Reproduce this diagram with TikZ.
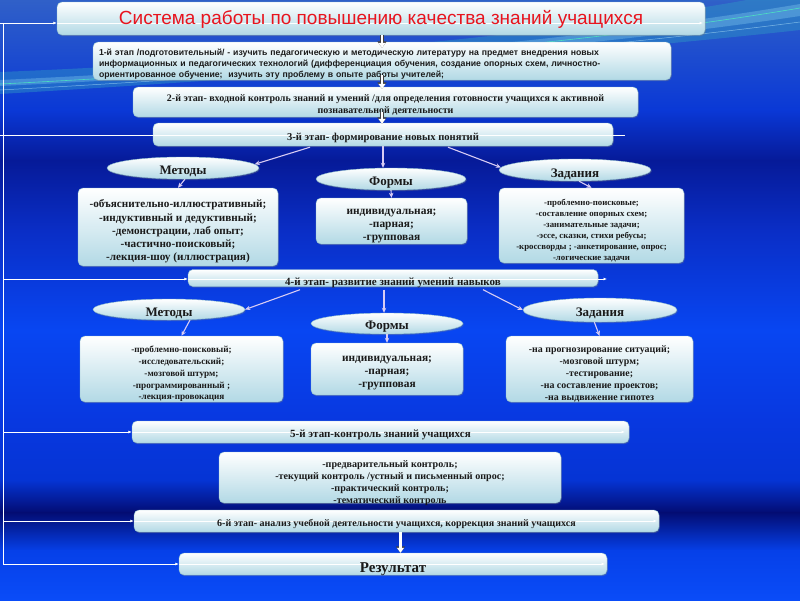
\documentclass[tikz,border=0pt]{standalone}
\usepackage{fontspec}
\setmainfont{Liberation Serif}
\newfontfamily\sansf{Liberation Sans}
\usetikzlibrary{shapes.geometric,arrows.meta,shadows,calc}
\definecolor{bgA}{HTML}{3060C8}
\definecolor{bgB}{HTML}{0A38D6}
\definecolor{bgC}{HTML}{061A98}
\definecolor{bgD}{HTML}{0A2EC6}
\definecolor{bgE}{HTML}{0846F2}
\definecolor{bgF}{HTML}{0838E0}
\definecolor{bgG}{HTML}{0534D4}
\definecolor{bgH}{HTML}{030C72}
\definecolor{bgI}{HTML}{0640E8}
\definecolor{bgJ}{HTML}{0A4CF8}
\definecolor{boxbot}{HTML}{B2D9E5}
\definecolor{boxedge}{HTML}{8CBCCC}
\definecolor{lav}{HTML}{D8CCF4}
\definecolor{titlered}{HTML}{E8141E}
\definecolor{txt}{HTML}{1A1A1A}
\begin{document}
\begin{tikzpicture}[x=1pt,y=-1pt,
  box/.style={rounded corners=5pt, top color=white, bottom color=boxbot, draw=boxedge, line width=0.4pt,
    inner sep=0pt, align=center, text=txt,
    drop shadow={opacity=0.35, shadow xshift=0.8pt, shadow yshift=-1.2pt}},
  oval/.style={ellipse, top color=white, bottom color=boxbot, draw=boxedge, line width=0.4pt,
    inner sep=0pt,
    drop shadow={opacity=0.35, shadow xshift=0.8pt, shadow yshift=-1.2pt}},
  tx/.style={inner sep=0pt, align=center, text=txt},
  ovtx/.style={inner sep=0pt, text=txt, font=\bfseries\fontsize{13}{14}\selectfont},
  hollow/.style={white, line width=2.2pt, -{Triangle[length=5pt,width=7pt]},
    preaction={draw=black!75, line width=3.6pt, -{Triangle[length=6.5pt,width=9pt]}}},
  lavarrow/.style={draw=lav, line width=1.1pt, -{Stealth[length=5pt,width=4.5pt]}},
  fb/.style={white, line width=1pt},
  fbarrow/.style={white, line width=1pt, -{Latex[length=3.5pt,width=3pt]}},
  fbthru/.style={white, line width=1pt, -{Latex[length=3.5pt,width=3pt]}},
  fbplain/.style={white, line width=1pt}
]
\useasboundingbox (0,0) rectangle (800,600);
% background
\fill[top color=bgA, bottom color=bgB] (0,0) rectangle (800,111);
\fill[top color=bgB, bottom color=bgC] (0,110) rectangle (800,161);
\fill[top color=bgC, bottom color=bgD] (0,160) rectangle (800,231);
\fill[top color=bgD, bottom color=bgE] (0,230) rectangle (800,331);
\fill[top color=bgE, bottom color=bgF] (0,330) rectangle (800,421);
\fill[top color=bgF, bottom color=bgG] (0,420) rectangle (800,481);
\fill[top color=bgG, bottom color=bgH] (0,480) rectangle (800,513);
\fill[top color=bgH, bottom color=bgI] (0,512) rectangle (800,551);
\fill[top color=bgI, bottom color=bgJ] (0,550) rectangle (800,600);
% swoosh
\fill[cyan!60!teal, opacity=0.45] (420,0) .. controls (600,0) and (700,-5) .. (800,-10) -- (800,0) -- cycle;
\fill[cyan!55!teal, opacity=0.45] (0,72) .. controls (300,60) and (600,30) .. (800,-10) -- (800,30) .. controls (600,52) and (300,76) .. (0,94) -- cycle;
\fill[cyan!40!white, opacity=0.30] (0,80) .. controls (300,66) and (600,38) .. (800,4) -- (800,16) .. controls (600,46) and (300,72) .. (0,86) -- cycle;
\draw[green!40!cyan!70!white, opacity=0.7, line width=0.6pt] (0,84) .. controls (300,69) and (600,42) .. (800,8);
\draw[cyan!30!white, opacity=0.6, line width=0.5pt] (0,90) .. controls (300,74) and (600,48) .. (800,22);

% feedback coordinates
\coordinate (L0) at (3,23);
\coordinate (L1) at (3,135);
\coordinate (L2) at (3,279);
\coordinate (L3) at (3,432);
\coordinate (L4) at (3,521);
\coordinate (L5) at (3,564);
\coordinate (R0) at (703,23);
\coordinate (R1) at (625,135);
\coordinate (R2) at (607,279);
\coordinate (R3) at (625,432);
\coordinate (R4) at (657,521);
\coordinate (R5) at (605,564);

% boxes
\node[box, minimum width=648pt, minimum height=33pt,
  path picture={\draw[fbthru] (path picture bounding box.west |- L0) -- (R0);}] (title) at (381,18.5) {};
\node[box, minimum width=578pt, minimum height=38pt] (s1) at (382,61) {};
\node[box, minimum width=505pt, minimum height=30pt] (s2) at (385.5,102) {};
\node[box, minimum width=460pt, minimum height=23pt,
  path picture={\draw[fbplain] (path picture bounding box.west |- L1) -- (path picture bounding box.east |- L1);}] (s3) at (383,134.5) {};
\node[oval, minimum width=152pt, minimum height=22pt] (m1e) at (183,168) {};
\node[oval, minimum width=150pt, minimum height=22pt] (f1e) at (391,179) {};
\node[oval, minimum width=152pt, minimum height=22pt] (t1e) at (575,170) {};
\node[box, minimum width=200pt, minimum height=78pt] (m1) at (178,227) {};
\node[box, minimum width=151pt, minimum height=46pt] (f1) at (391.5,221) {};
\node[box, minimum width=185pt, minimum height=75pt] (t1) at (591.5,225.5) {};
\node[box, minimum width=410pt, minimum height=17pt,
  path picture={\draw[fbplain] (path picture bounding box.west |- L2) -- (path picture bounding box.east |- L2);}] (s4) at (393,278) {};
\node[oval, minimum width=152pt, minimum height=21pt] (m2e) at (169,309.5) {};
\node[oval, minimum width=152pt, minimum height=21pt] (f2e) at (387,323.5) {};
\node[oval, minimum width=154pt, minimum height=24pt] (t2e) at (600,310) {};
\node[box, minimum width=203pt, minimum height=66pt] (m2) at (181.5,369) {};
\node[box, minimum width=152pt, minimum height=52pt] (f2) at (387,369) {};
\node[box, minimum width=187pt, minimum height=66pt] (t2) at (599.5,369) {};
\node[box, minimum width=497pt, minimum height=22pt,
  path picture={\draw[fbthru] (path picture bounding box.west |- L3) -- (R3);}] (s5) at (380.5,432) {};
\node[box, minimum width=342pt, minimum height=51pt] (ctrl) at (390,477.5) {};
\node[box, minimum width=525pt, minimum height=22pt,
  path picture={\draw[fbthru] (path picture bounding box.west |- L4) -- (R4);}] (s6) at (396.5,521) {};
\node[box, minimum width=428pt, minimum height=22pt,
  path picture={\draw[fbthru] (path picture bounding box.west |- L5) -- (R5);}] (res) at (393,564) {};

% texts
\node[tx, text=titlered, font=\sansf\fontsize{19}{21}\selectfont] (titlet) at ([yshift=-0.5pt]title.center)
  {Система работы по повышению качества знаний учащихся};
\node[tx, text width=566pt, align=left, font=\sansf\bfseries\fontsize{8.7}{10.7}\selectfont] (s1t) at ([yshift=-3pt]s1.center)
  {1-й этап /подготовительный/ - изучить педагогическую и методическую литературу на предмет внедрения новых\\
   информационных и педагогических технологий (дифференциация обучения, создание опорных схем, личностно-\\
   ориентированное обучение;\ \ изучить эту проблему в опыте работы учителей;};
\node[tx, font=\bfseries\fontsize{10}{12.5}\selectfont] (s2t) at ([yshift=-3pt]s2.center)
  {2-й этап- входной контроль знаний и умений /для определения готовности учащихся к активной\\
   познавательной деятельности};
\node[tx, font=\bfseries\fontsize{10.6}{12}\selectfont] (s3t) at ([yshift=-3.5pt]s3.center)
  {3-й этап- формирование новых понятий};
\node[ovtx] (m1et) at ([yshift=-3pt]m1e.center) {Методы};
\node[ovtx] (f1et) at ([yshift=-4pt]f1e.center) {Формы};
\node[ovtx] (t1et) at ([yshift=-4.5pt]t1e.center) {Задания};
\node[tx, font=\bfseries\fontsize{11.2}{13.2}\selectfont] (m1t) at ([yshift=-4.5pt]m1.center)
  {-объяснительно-иллюстративный;\\-индуктивный и дедуктивный;\\-демонстрации, лаб опыт;\\-частично-поисковый;\\-лекция-шоу (иллюстрация)};
\node[tx, font=\bfseries\fontsize{11.4}{13}\selectfont] (f1t) at ([yshift=-5pt]f1.center)
  {индивидуальная;\\-парная;\\-групповая};
\node[tx, font=\bfseries\fontsize{8.8}{11}\selectfont] (t1t) at ([yshift=-5pt]t1.center)
  {-проблемно-поисковые;\\-составление опорных схем;\\-занимательные задачи;\\-эссе, сказки, стихи ребусы;\\-кроссворды ; -анкетирование, опрос;\\-логические задачи};
\node[tx, font=\bfseries\fontsize{11}{12}\selectfont] (s4t) at ([yshift=-5pt]s4.center)
  {4-й этап- развитие знаний умений навыков};
\node[ovtx] (m2et) at ([yshift=-4pt]m2e.center) {Методы};
\node[ovtx] (f2et) at ([yshift=-3.5pt]f2e.center) {Формы};
\node[ovtx] (t2et) at ([yshift=-3pt]t2e.center) {Задания};
\node[tx, font=\bfseries\fontsize{9.2}{11.8}\selectfont] (m2t) at ([yshift=-5pt]m2.center)
  {-проблемно-поисковый;\\-исследовательский;\\-мозговой штурм;\\-программированный ;\\-лекция-провокация};
\node[tx, font=\bfseries\fontsize{11.4}{13}\selectfont] (f2t) at ([yshift=-4pt]f2.center)
  {индивидуальная;\\-парная;\\-групповая};
\node[tx, font=\bfseries\fontsize{9.9}{11.8}\selectfont] (t2t) at ([yshift=-5pt]t2.center)
  {-на прогнозирование ситуаций;\\-мозговой штурм;\\-тестирование;\\-на составление проектов;\\-на выдвижение гипотез};
\node[tx, font=\bfseries\fontsize{11}{12}\selectfont] (s5t) at ([yshift=-2.5pt]s5.center)
  {5-й этап-контроль знаний учащихся};
\node[tx, font=\bfseries\fontsize{10.1}{12}\selectfont] (ctrlt) at ([yshift=-6pt]ctrl.center)
  {-предварительный контроль;\\-текущий контроль /устный и письменный опрос;\\-практический контроль;\\-тематический контроль};
\node[tx, font=\bfseries\fontsize{10}{11}\selectfont] (s6t) at ([yshift=-2.5pt]s6.center)
  {6-й этап- анализ учебной деятельности учащихся, коррекция знаний учащихся};
\node[tx, font=\bfseries\fontsize{15}{16}\selectfont] (rest) at ([yshift=-5pt]res.center)
  {Результат};

% feedback lines
\draw[fb] (L0) -- (L5);
\draw[fb] (L0) -- (0,23);
\draw[fb] (L1) -- (0,135);
\draw[fbarrow] (L0) -- (L0 -| title.west);
\draw[fb] (L1) -- (L1 -| s3.west);
\draw[fbplain] (L1 -| s3.east) -- (R1);
\draw[fbarrow] (L2) -- (L2 -| s4.west);
\draw[fbthru] (L2 -| s4.east) -- (R2);
\draw[fbarrow] (L3) -- (L3 -| s5.west);
\draw[fbarrow] (L4) -- (L4 -| s6.west);
\draw[fbarrow] (L5) -- (L5 -| res.west);

% stage arrows
\draw[hollow] ([xshift=1pt]title.south) -- ([yshift=-6pt]s1.north);
\draw[hollow] ([yshift=5pt]s1.south) -- ([yshift=-2pt]s1.south |- s2.north);
\draw[hollow] ([yshift=5pt]s1.south |- s2.south) -- ([yshift=-1pt]s1.south |- s3.north);
\draw[hollow] ([xshift=4pt]s6.south) -- ([xshift=4pt]s6.south |- res.north);

% branch arrows
\draw[lavarrow] ([xshift=-73pt,yshift=-1pt]s3.south) -- (m1e.3);
\draw[lavarrow] (s3.south) -- (s3.south |- f1e.north);
\draw[lavarrow] ([xshift=65pt,yshift=-1pt]s3.south) -- (t1e.178);
\draw[lavarrow] (m1e.-80) -- (m1.north);
\draw[lavarrow] (f1e.south) -- (f1.north);
\draw[lavarrow] (t1e.-70) -- (t1.north);
\draw[lavarrow] ([xshift=-93pt,yshift=-3pt]s4.south) -- (m2e.east);
\draw[lavarrow] ([xshift=-9pt,yshift=-3pt]s4.south) -- ([xshift=-9pt]s4.south |- f2e.north);
\draw[lavarrow] ([xshift=90pt,yshift=-3pt]s4.south) -- (t2e.west);
\draw[lavarrow] (m2e.-26) -- (m2.north);
\draw[lavarrow] (f2e.south) -- (f2.north);
\draw[lavarrow] (t2e.-115) -- (t2.north);
\end{tikzpicture}
\end{document}
